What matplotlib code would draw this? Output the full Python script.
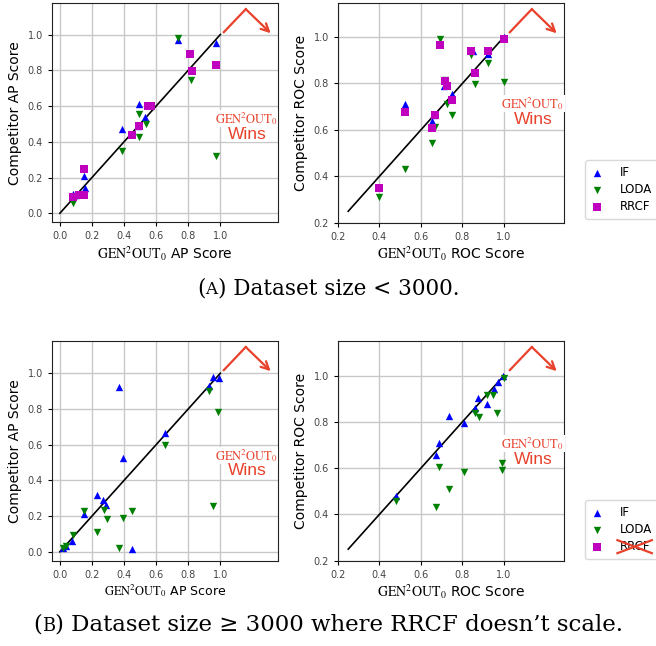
import matplotlib
matplotlib.use("Agg")
import matplotlib.pyplot as plt
from matplotlib.offsetbox import TextArea, HPacker, AnchoredOffsetbox

plt.rcParams["mathtext.fontset"] = "stix"
plt.rcParams["font.family"] = "DejaVu Sans"

# (A) dataset size < 3000 -- AP scores (GEN2OUT0 score, competitor score)
a_ap_if_x = [0.08, 0.10, 0.15, 0.155, 0.39, 0.49, 0.495, 0.53, 0.735, 0.97]
a_ap_if_y = [0.11, 0.10, 0.21, 0.14, 0.47, 0.49, 0.61, 0.54, 0.97, 0.955]
a_ap_loda_x = [0.08, 0.10, 0.15, 0.39, 0.495, 0.495, 0.535, 0.735, 0.82, 0.97]
a_ap_loda_y = [0.06, 0.09, 0.10, 0.35, 0.555, 0.425, 0.50, 0.98, 0.745, 0.32]
a_ap_rrcf_x = [0.08, 0.12, 0.15, 0.15, 0.45, 0.495, 0.55, 0.57, 0.81, 0.825, 0.975]
a_ap_rrcf_y = [0.09, 0.10, 0.105, 0.245, 0.44, 0.49, 0.60, 0.60, 0.89, 0.795, 0.83]

# (A) ROC scores
a_roc_if_x = [0.525, 0.655, 0.665, 0.71, 0.75, 0.85, 0.925, 1.0]
a_roc_if_y = [0.71, 0.64, 0.665, 0.79, 0.755, 0.94, 0.925, 1.0]
a_roc_loda_x = [0.40, 0.525, 0.655, 0.67, 0.693, 0.714, 0.725, 0.751, 0.843, 0.862, 0.923, 0.998]
a_roc_loda_y = [0.31, 0.43, 0.545, 0.613, 0.989, 0.816, 0.71, 0.666, 0.921, 0.796, 0.888, 0.806]
a_roc_rrcf_x = [0.40, 0.524, 0.655, 0.666, 0.693, 0.714, 0.727, 0.751, 0.843, 0.862, 0.923, 0.998]
a_roc_rrcf_y = [0.35, 0.677, 0.61, 0.666, 0.967, 0.809, 0.789, 0.728, 0.94, 0.845, 0.94, 0.989]

# (B) dataset size >= 3000 -- AP scores
b_ap_if_x = [0.02, 0.04, 0.073, 0.15, 0.229, 0.27, 0.288, 0.371, 0.392, 0.452, 0.652, 0.927, 0.952, 0.99]
b_ap_if_y = [0.022, 0.035, 0.06, 0.209, 0.317, 0.289, 0.264, 0.922, 0.525, 0.013, 0.665, 0.926, 0.981, 0.976]
b_ap_loda_x = [0.02, 0.04, 0.079, 0.15, 0.229, 0.275, 0.292, 0.371, 0.392, 0.452, 0.652, 0.927, 0.952, 0.983]
b_ap_loda_y = [0.022, 0.03, 0.093, 0.227, 0.11, 0.236, 0.184, 0.019, 0.19, 0.227, 0.60, 0.898, 0.255, 0.782]

# (B) ROC scores
b_roc_if_x = [0.481, 0.671, 0.687, 0.735, 0.806, 0.859, 0.875, 0.918, 0.952, 0.971, 0.995]
b_roc_if_y = [0.481, 0.655, 0.707, 0.825, 0.793, 0.858, 0.901, 0.879, 0.944, 0.973, 0.997]
b_roc_loda_x = [0.481, 0.671, 0.687, 0.735, 0.806, 0.859, 0.878, 0.918, 0.947, 0.966, 0.99, 0.99, 1.0]
b_roc_loda_y = [0.46, 0.434, 0.606, 0.512, 0.585, 0.839, 0.819, 0.918, 0.918, 0.839, 0.624, 0.592, 0.99]

RED = "#e8412c"
GEN = r"$\mathrm{GEN^2OUT_0}$"


def panel(ax, kind, if_xy, loda_xy, rrcf_xy, xlim, ylim, lo, wins_y, label_size=10):
    ax.set_axisbelow(True)
    ax.grid(True, color="#c8c8c8", linewidth=1.0)
    ax.plot([lo, 1.0], [lo, 1.0], color="black", linewidth=1.2, zorder=2)
    ax.scatter(*if_xy, marker="^", color="blue", s=28, linewidths=0, zorder=3, label="IF")
    ax.scatter(*loda_xy, marker="v", color="green", s=28, linewidths=0, zorder=3, label="LODA")
    ax.scatter(*rrcf_xy, marker="s", color="m", s=28, linewidths=0, zorder=3, label="RRCF")
    ticks = [t / 10 for t in range(int(round(lo * 10)), 11, 2)]
    ax.set_xticks(ticks)
    ax.set_yticks(ticks)
    ax.set_xlim(*xlim)
    ax.set_ylim(*ylim)
    ax.tick_params(labelsize=7, labelcolor="#444444", length=3)
    for s in ax.spines.values():
        s.set_color("#222222")
    ax.set_xlabel(GEN + " " + kind + " Score", fontsize=label_size, labelpad=2)
    ax.set_ylabel("Competitor " + kind + " Score", fontsize=10)

    # arrow towards the "wins" region
    ax.plot([0.76, 0.857], [0.868, 0.973], color=RED, linewidth=1.6,
            transform=ax.transAxes, clip_on=False, zorder=4)
    ax.annotate("", xy=(0.967, 0.863), xytext=(0.857, 0.973),
                xycoords="axes fraction", textcoords="axes fraction",
                arrowprops=dict(arrowstyle="->", color=RED, lw=1.6,
                                shrinkA=0, shrinkB=0, mutation_scale=14))
    box = dict(facecolor="white", edgecolor="none", pad=0.1)
    ax.text(0.862, wins_y[0], GEN, color=RED, fontsize=9, ha="center", va="center",
            transform=ax.transAxes, bbox=box, zorder=5)
    ax.text(0.862, wins_y[1], "Wins", color=RED, fontsize=12.5, ha="center", va="center",
            family="Liberation Sans", transform=ax.transAxes, bbox=box, zorder=5)


def caption(fig, y, letter, rest, size):
    serif = dict(family="DejaVu Serif", fontsize=size)
    parts = [TextArea("(", textprops=serif),
             TextArea(letter, textprops=dict(family="DejaVu Serif", fontsize=size * 0.78)),
             TextArea(")" + rest, textprops=serif)]
    row = HPacker(children=parts, align="baseline", pad=0, sep=0)
    fig.add_artist(AnchoredOffsetbox(loc="center", child=row, frameon=False, pad=0,
                                     borderpad=0, bbox_to_anchor=(0.5, y),
                                     bbox_transform=fig.transFigure))


fig = plt.figure(figsize=(6.56, 6.46), dpi=100)
ax_tl = fig.add_axes([0.079, 0.656, 0.345, 0.339])
ax_tr = fig.add_axes([0.515, 0.655, 0.345, 0.340])
ax_bl = fig.add_axes([0.079, 0.132, 0.345, 0.340])
ax_br = fig.add_axes([0.515, 0.132, 0.345, 0.340])

panel(ax_tl, "AP", (a_ap_if_x, a_ap_if_y), (a_ap_loda_x, a_ap_loda_y),
      (a_ap_rrcf_x, a_ap_rrcf_y), (-0.05, 1.36), (-0.05, 1.175), 0.0, (0.475, 0.40))
panel(ax_tr, "ROC", (a_roc_if_x, a_roc_if_y), (a_roc_loda_x, a_roc_loda_y),
      (a_roc_rrcf_x, a_roc_rrcf_y), (0.2, 1.29), (0.2, 1.145), 0.25, (0.544, 0.47))
panel(ax_bl, "AP", (b_ap_if_x, b_ap_if_y), (b_ap_loda_x, b_ap_loda_y),
      ([], []), (-0.05, 1.36), (-0.05, 1.18), 0.0, (0.48, 0.412), label_size=9)
panel(ax_br, "ROC", (b_roc_if_x, b_roc_if_y), (b_roc_loda_x, b_roc_loda_y),
      ([], []), (0.2, 1.29), (0.2, 1.149), 0.25, (0.533, 0.461))

handles, labels = ax_tr.get_legend_handles_labels()
leg_kw = dict(loc="upper left", fontsize=8.5, frameon=True, edgecolor="#d0d0d0",
              handlelength=1.0, handletextpad=1.4, borderpad=0.5, labelspacing=0.35,
              borderaxespad=0)
fig.legend(handles, labels, bbox_to_anchor=(0.892, 0.752), **leg_kw)
leg_b = fig.legend(handles, labels, bbox_to_anchor=(0.892, 0.226), **leg_kw)

caption(fig, 0.554, "A", " Dataset size < 3000.", 15.5)
caption(fig, 0.033, "B", " Dataset size \u2265 3000 where RRCF doesn\u2019t scale.", 16.5)

# cross out RRCF in the lower legend
fig.canvas.draw()
bb = leg_b.get_texts()[2].get_window_extent().transformed(fig.transFigure.inverted())
for ys in ([bb.y0, bb.y1], [bb.y1, bb.y0]):
    fig.add_artist(plt.Line2D([bb.x0 - 0.003, bb.x1 + 0.003], ys, color=RED, lw=1.6,
                              transform=fig.transFigure, zorder=10))

fig.savefig("out.png", dpi=100)
